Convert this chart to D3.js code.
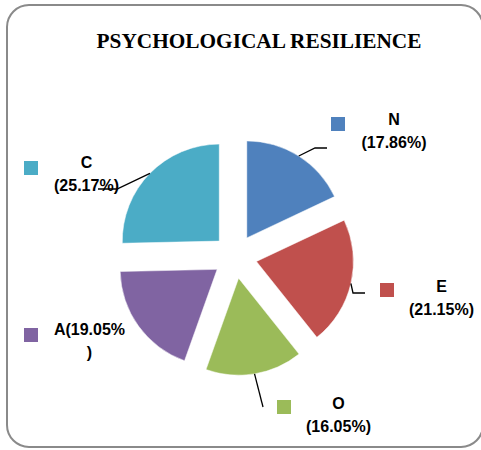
<!DOCTYPE html>
<html>
<head>
<meta charset="utf-8">
<script src="https://cdn.jsdelivr.net/npm/d3@7"></script>
<style>
  html, body { margin: 0; padding: 0; background: #fff; }
  svg { display: block; }
</style>
</head>
<body>
<svg id="chart" width="481" height="450"></svg>
<script>
// Trait shares of psychological resilience (percent)
const categories = ["N", "E", "O", "A", "C"];
const values = [17.86, 21.15, 16.05, 19.05, 25.17];
const colors = ["#4F81BD", "#C0504D", "#9BBB59", "#8064A2", "#4BACC6"];
const title = "PSYCHOLOGICAL RESILIENCE";

// Layout of the data labels: legend key, text anchor and leader elbows
const labelLayout = [
  { key: [331, 117], text: [394, 125], wrap: "split", leader: [[315, 148], [327, 148]] },
  { key: [380, 283], text: [441.5, 292], wrap: "split", leader: [[353, 293], [365, 293]] },
  { key: [277, 400], text: [338.5, 409], wrap: "split", leader: [[263, 407]] },
  { key: [24, 328], text: [89.5, 335], wrap: "tail", leader: null },
  { key: [24, 161], text: [86.5, 168], wrap: "split", leader: [[117, 189], [98, 189]] }
];

const W = 481, H = 450;
const cx = 235, cy = 256.5, radius = 97, explode = 22;
const svg = d3.select("#chart");

// frame
svg.append("rect")
  .attr("x", 7).attr("y", 5)
  .attr("width", 476).attr("height", 442)
  .attr("rx", 22).attr("ry", 22)
  .attr("fill", "#fff")
  .attr("stroke", "#8a8a8a")
  .attr("stroke-width", 2);

// title
svg.append("text")
  .attr("x", 259).attr("y", 48)
  .attr("text-anchor", "middle")
  .attr("font-family", "'Liberation Serif', 'Times New Roman', serif")
  .attr("font-weight", "bold")
  .attr("font-size", 21.3)
  .attr("fill", "#000")
  .text(title);

const pie = d3.pie().sort(null).value(d => d);
const arcs = pie(values);
const arcGen = d3.arc().innerRadius(0).outerRadius(radius);

const offset = a => {
  const m = (a.startAngle + a.endAngle) / 2;
  return [Math.sin(m) * explode, -Math.cos(m) * explode];
};

const g = svg.append("g").attr("transform", `translate(${cx},${cy})`);

g.selectAll("path.slice")
  .data(arcs)
  .join("path")
  .attr("class", "slice")
  .attr("transform", d => `translate(${offset(d)})`)
  .attr("d", arcGen)
  .attr("fill", (d, i) => colors[i])
  .attr("stroke", "#fff")
  .attr("stroke-width", 0.5);

// leader lines from the outer edge midpoint of each slice
arcs.forEach((a, i) => {
  const lay = labelLayout[i];
  if (!lay.leader) return;
  const m = (a.startAngle + a.endAngle) / 2;
  const [ox, oy] = offset(a);
  const start = [cx + ox + Math.sin(m) * radius, cy + oy - Math.cos(m) * radius];
  const pts = [start, ...lay.leader];
  svg.append("path")
    .attr("d", d3.line()(pts))
    .attr("fill", "none")
    .attr("stroke", "#000")
    .attr("stroke-width", 1.3);
});

// data labels with legend keys
arcs.forEach((a, i) => {
  const lay = labelLayout[i];
  svg.append("rect")
    .attr("x", lay.key[0]).attr("y", lay.key[1])
    .attr("width", 14).attr("height", 14)
    .attr("fill", colors[i]);
  const pct = values[i].toFixed(2) + "%";
  const lines = lay.wrap === "tail"
    ? [categories[i] + "(" + pct, ")"]
    : [categories[i], "(" + pct + ")"];
  const t = svg.append("text")
    .attr("text-anchor", "middle")
    .attr("font-family", "'Liberation Sans', Arial, sans-serif")
    .attr("font-weight", "bold")
    .attr("font-size", 16)
    .attr("fill", "#000");
  lines.forEach((s, k) => {
    t.append("tspan")
      .attr("x", lay.text[0])
      .attr("y", lay.text[1] + k * 23.2)
      .text(s);
  });
});
</script>
</body>
</html>
